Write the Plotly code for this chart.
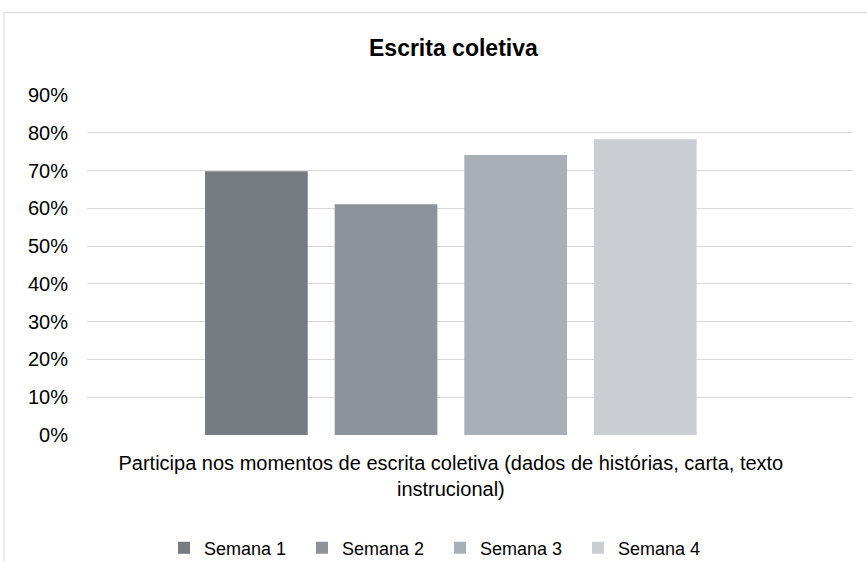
import plotly.graph_objects as go

categories = ["Participa nos momentos de escrita coletiva (dados de histórias, carta, texto<br>instrucional)"]
series_names = ["Semana 1", "Semana 2", "Semana 3", "Semana 4"]
series_values = [[0.698], [0.611], [0.741], [0.783]]
series_colors = ["#767B82", "#8C939A", "#A9AFB6", "#CACED2"]
y_ticks = [0, 0.1, 0.2, 0.3, 0.4, 0.5, 0.6, 0.7, 0.8, 0.9]
y_ticktext = ["0%", "10%", "20%", "30%", "40%", "50%", "60%", "70%", "80%", "90%"]
title_text = "<b>Escrita coletiva</b>"

FONT = "Liberation Sans, Arial, sans-serif"

W, H = 867, 561
ML, MR, MT, MB = 87, 14, 95, 126
PW = W - ML - MR
PH = H - MT - MB

def px_x(x):
    return (x - ML) / PW

def px_y(y):
    return (H - MB - y) / PH

fig = go.Figure()
for name, vals, col in zip(series_names, series_values, series_colors):
    fig.add_trace(go.Bar(x=categories, y=vals, name=name, marker=dict(color=col, line=dict(width=0))))

fig.update_layout(
    width=W, height=H,
    margin=dict(l=ML, r=MR, t=MT, b=MB, autoexpand=False),
    paper_bgcolor="white", plot_bgcolor="white",
    barmode="group", bargap=0.323, bargroupgap=0.208,
    font=dict(family=FONT, size=20, color="#000000"),
    showlegend=True,
    legend=dict(orientation="h", x=px_x(164), xanchor="left", y=px_y(548), yanchor="middle",
                font=dict(size=18, color="#000000"), itemwidth=30, entrywidth=93,
                entrywidthmode="pixels", traceorder="normal", bgcolor="rgba(0,0,0,0)"),
    xaxis=dict(type="category", range=[-0.475, 0.525], showgrid=False, zeroline=False,
               showline=False, ticks="", ticklabelstandoff=14,
               tickfont=dict(size=20, color="#000000")),
    yaxis=dict(range=[0, 0.9], tickvals=y_ticks, ticktext=y_ticktext, showgrid=True,
               gridcolor="#D9D9D9", gridwidth=1, zeroline=False, showline=False, ticks="",
               ticklabelstandoff=18, tickfont=dict(size=20, color="#000000")),
    annotations=[dict(text=title_text, x=px_x(453), y=px_y(48), xref="paper", yref="paper",
                      xanchor="center", yanchor="middle", showarrow=False,
                      font=dict(size=23, color="#000000", family=FONT))],
    shapes=[dict(type="rect", xref="paper", yref="paper", x0=px_x(4), x1=px_x(905),
                 y0=px_y(600), y1=px_y(12.5), line=dict(color="#D9D9D9", width=1),
                 fillcolor="rgba(0,0,0,0)", layer="below")],
)

fig.write_html("out.html", config={"displayModeBar": False},
               post_script="document.body.style.margin='0';document.body.style.overflow='hidden';")
